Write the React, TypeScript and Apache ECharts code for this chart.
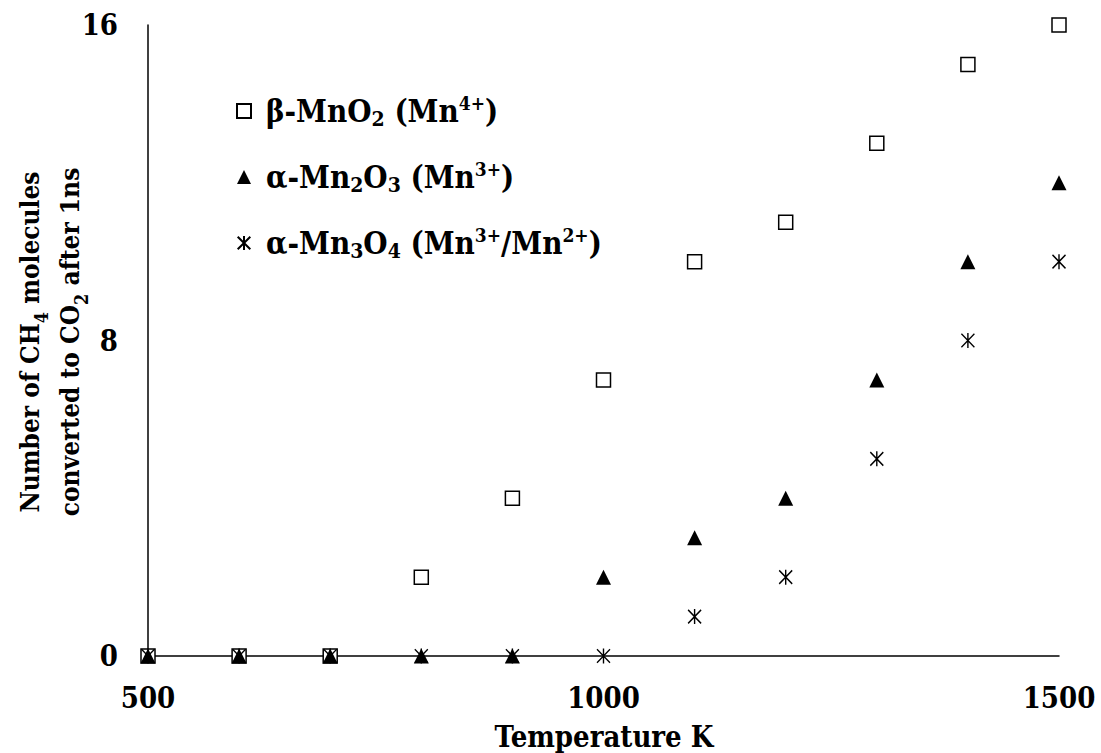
import React, { useEffect, useRef } from "react";
import * as echarts from "echarts";

const temperatures = [500, 600, 700, 800, 900, 1000, 1100, 1200, 1300, 1400, 1500];
const betaMnO2 = [0, 0, 0, 2, 4, 7, 10, 11, 13, 15, 16];
const alphaMn2O3 = [0, 0, 0, 0, 0, 2, 3, 4, 7, 10, 12];
const alphaMn3O4 = [0, 0, 0, 0, 0, 0, 1, 2, 5, 8, 10];
const seriesNames = ["β-MnO2 (Mn4+)", "α-Mn2O3 (Mn3+)", "α-Mn3O4 (Mn3+/Mn2+)"];
const seriesLabels = [
  "{t|β-MnO}{sub|2}{t| (Mn}{sup|4+}{t|)}",
  "{t|α-Mn}{sub|2}{t|O}{sub|3}{t| (Mn}{sup|3+}{t|)}",
  "{t|α-Mn}{sub|3}{t|O}{sub|4}{t| (Mn}{sup|3+}{t|/Mn}{sup|2+}{t|)}",
];
const xTicks = [500, 1000, 1500];
const yTicks = [0, 8, 16];
const xTitle = "Temperature K";
const yTitleLines = [
  "{t|Number of CH}{sub|4}{t| molecules}",
  "{t|converted to CO}{sub|2}{t| after 1ns}",
];

const FONT = '"DejaVu Serif Condensed", "DejaVu Serif", serif';
const ASTERISK = "path://M5 0 L5 10 M0.5 0.5 L9.5 9.5 M0.5 9.5 L9.5 0.5";

const pairs = (ys: number[]) => temperatures.map((t, i) => [t, ys[i]]);

const richFor = (size: number, lh: number) => ({
  t: { fontFamily: FONT, fontWeight: "bold", fontSize: size, lineHeight: lh, color: "#000", fill: "#000" },
  sub: {
    fontFamily: FONT,
    fontWeight: "bold",
    fontSize: Math.round(size * 0.68),
    lineHeight: Math.round(size * 0.68),
    verticalAlign: "bottom",
    color: "#000",
    fill: "#000",
  },
  sup: {
    fontFamily: FONT,
    fontWeight: "bold",
    fontSize: Math.round(size * 0.62),
    lineHeight: Math.round(size * 0.62),
    verticalAlign: "top",
    color: "#000",
    fill: "#000",
  },
});

export default function App() {
  const ref = useRef<HTMLDivElement>(null);
  useEffect(() => {
    if (!ref.current) return;
    const chart = echarts.init(ref.current, null, { renderer: "svg" });
    chart.setOption({
      animation: false,
      backgroundColor: "#fff",
      textStyle: { fontFamily: FONT },
      grid: { left: 148, right: 1101 - 1059, top: 25, bottom: 753 - 656 },
      xAxis: {
        type: "value",
        min: 500,
        max: 1500,
        interval: 500,
        axisLine: { show: true, lineStyle: { color: "#000", width: 1.5 } },
        axisTick: { show: false },
        splitLine: { show: false },
        axisLabel: {
          margin: 27,
          color: "#000",
          fontFamily: FONT,
          fontWeight: "bold",
          fontSize: 29,
          customValues: xTicks,
          formatter: (v: number) => String(v),
        },
      },
      yAxis: {
        type: "value",
        min: 0,
        max: 16,
        interval: 8,
        axisLine: { show: true, lineStyle: { color: "#000", width: 1.5 } },
        axisTick: { show: false },
        splitLine: { show: false },
        axisLabel: {
          margin: 30,
          color: "#000",
          fontFamily: FONT,
          fontWeight: "bold",
          fontSize: 29,
          customValues: yTicks,
          formatter: (v: number) => String(v),
        },
      },
      legend: {
        orient: "vertical",
        left: 231,
        top: 88,
        itemWidth: 14,
        itemHeight: 14,
        itemGap: 30,
        formatter: (name: string) => seriesLabels[seriesNames.indexOf(name)],
        textStyle: {
          color: "#000",
          fontFamily: FONT,
          fontWeight: "bold",
          fontSize: 31,
          padding: [0, 0, 0, 10],
          rich: richFor(31, 36),
        },
        data: seriesNames,
      },
      graphic: [
        {
          type: "text",
          x: 604,
          y: 737,
          style: {
            text: xTitle,
            fontFamily: FONT,
            fontWeight: "bold",
            fontSize: 29,
            fill: "#000",
            align: "center",
            verticalAlign: "middle",
          },
        },
        {
          type: "text",
          x: 50,
          y: 342,
          rotation: Math.PI / 2,
          style: {
            text: yTitleLines.join("\n"),
            fontFamily: FONT,
            fontWeight: "bold",
            fontSize: 26,
            fill: "#000",
            align: "center",
            verticalAlign: "middle",
            rich: richFor(26, 40),
          },
        },
      ],
      series: [
        {
          name: seriesNames[0],
          type: "scatter",
          symbol: "rect",
          symbolSize: 14,
          itemStyle: { color: "#fff", borderColor: "#000", borderWidth: 1.5, opacity: 1 },
          data: pairs(betaMnO2),
        },
        {
          name: seriesNames[1],
          type: "scatter",
          symbol: "triangle",
          symbolSize: [15, 15],
          itemStyle: { color: "#000", opacity: 1 },
          data: pairs(alphaMn2O3),
        },
        {
          name: seriesNames[2],
          type: "scatter",
          symbol: ASTERISK,
          symbolSize: [13, 15],
          itemStyle: { color: "transparent", borderColor: "#000", borderWidth: 1.5, opacity: 1 },
          data: pairs(alphaMn3O4),
        },
      ],
    });
    return () => chart.dispose();
  }, []);
  return (
    <div
      ref={ref}
      style={{ position: "fixed", left: 0, top: 0, width: 1101, height: 753, background: "#fff" }}
    />
  );
}
